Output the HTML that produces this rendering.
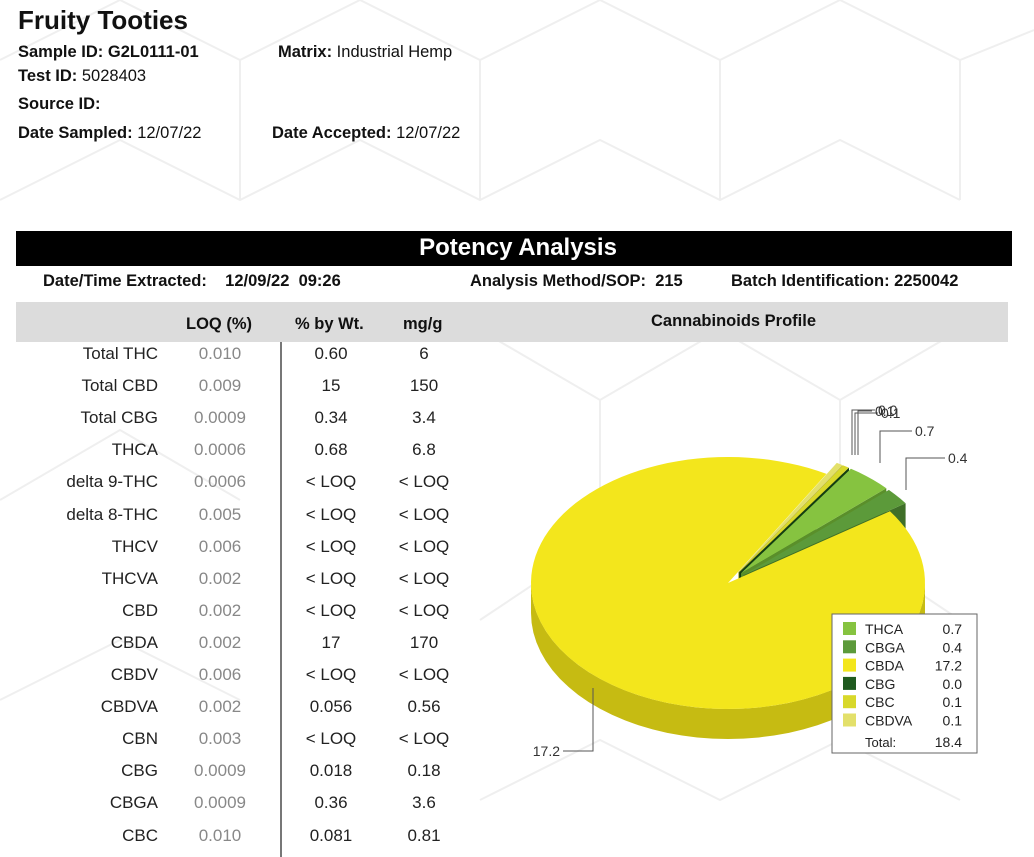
<!DOCTYPE html>
<html><head><meta charset="utf-8">
<style>
body{margin:0;width:1034px;height:857px;background:#fff;font-family:"Liberation Sans",Arial,sans-serif;position:relative;overflow:hidden;color:#111}
.a{position:absolute;white-space:nowrap}
.b{font-weight:bold}
.hd{font-size:16.5px}
.row{position:absolute;font-size:17px;color:#222}
</style></head><body>
<svg class="a" style="left:0;top:0" width="1034" height="857">
<g stroke="#efefef" stroke-width="2" fill="none">
<path d="M0 60 L120 0 M120 0 L240 60 L360 0 L480 60 L600 0 L720 60 L840 0 L960 60 L1034 30 M240 60 L240 200 M480 60 L480 200 M720 60 L720 200 M960 60 L960 200 M0 200 L120 140 L240 200 L360 140 L480 200 L600 140 L720 200 L840 140 L960 200"/>
<path d="M480 330 L600 400 L720 330 L840 400 L960 330 M600 400 L600 540 M840 400 L840 540 M480 620 L600 540 L720 620 L840 540 L960 620 M480 800 L600 740 L720 800 L840 740 L960 800 M0 500 L120 430 L240 500 M0 700 L120 640 L240 700"/>
</g></svg>

<div class="a b" style="left:18px;top:5px;font-size:26px">Fruity Tooties</div>
<div class="a hd" style="left:18px;top:43px"><b>Sample ID: G2L0111-01</b></div>
<div class="a hd" style="left:278px;top:43px"><b>Matrix:</b> Industrial Hemp</div>
<div class="a hd" style="left:18px;top:67px"><b>Test ID:</b> 5028403</div>
<div class="a hd" style="left:18px;top:95px"><b>Source ID:</b></div>
<div class="a hd" style="left:18px;top:124px"><b>Date Sampled:</b> 12/07/22</div>
<div class="a hd" style="left:272px;top:124px"><b>Date Accepted:</b> 12/07/22</div>

<div class="a" style="left:16px;top:231px;width:996px;height:35px;background:#000"></div>
<div class="a b" style="left:16px;top:234px;width:1004px;text-align:center;color:#fff;font-size:24px">Potency Analysis</div>
<div class="a b hd" style="left:43px;top:272px">Date/Time Extracted:&nbsp;&nbsp;&nbsp; 12/09/22&nbsp; 09:26</div>
<div class="a b hd" style="left:470px;top:272px">Analysis Method/SOP:&nbsp; 215</div>
<div class="a b hd" style="left:731px;top:272px">Batch Identification: 2250042</div>

<div class="a" style="left:16px;top:302px;width:992px;height:40px;background:#dcdcdc"></div>
<div class="a b hd" style="left:186px;top:315px">LOQ (%)</div>
<div class="a b hd" style="left:295px;top:315px">% by Wt.</div>
<div class="a b hd" style="left:403px;top:315px">mg/g</div>
<div class="a b hd" style="left:651px;top:312px">Cannabinoids Profile</div>
<div class="a" style="left:280px;top:342px;width:2px;height:515px;background:#777"></div>

<div id="tbl"></div>
<svg id="pie" class="a" style="left:0;top:0" width="1034" height="857"></svg>

<script>
const names=["Total THC","Total CBD","Total CBG","THCA","delta 9-THC","delta 8-THC","THCV","THCVA","CBD","CBDA","CBDV","CBDVA","CBN","CBG","CBGA","CBC"];
const loqs=["0.010","0.009","0.0009","0.0006","0.0006","0.005","0.006","0.002","0.002","0.002","0.006","0.002","0.003","0.0009","0.0009","0.010"];
const pcts=["0.60","15","0.34","0.68","< LOQ","< LOQ","< LOQ","< LOQ","< LOQ","17","< LOQ","0.056","< LOQ","0.018","0.36","0.081"];
const mggs=["6","150","3.4","6.8","< LOQ","< LOQ","< LOQ","< LOQ","< LOQ","170","< LOQ","0.56","< LOQ","0.18","3.6","0.81"];
const tbl=document.getElementById('tbl');
names.forEach((n,i)=>{
  const y=344+i*32.1;
  const cells=[[n,0,158,'right','#222'],[loqs[i],170,100,'center','#888'],[pcts[i],290,82,'center','#222'],[mggs[i],380,88,'center','#222']];
  cells.forEach((c,j)=>{
    const d=document.createElement('div');
    d.className='row';
    d.style.left=c[1]+'px';d.style.top=y+'px';d.style.width=c[2]+'px';d.style.textAlign=c[3];d.style.color=c[4];
    d.textContent=c[0];
    
    
    tbl.appendChild(d);
  });
});

const sliceNames=["CBDVA","CBC","CBG","THCA","CBGA","CBDA"];
const sliceVals=[0.1,0.1,0.0,0.7,0.4,17.2];
const sliceTop=["#e3e06a","#d8d82a","#1f5a1f","#86c340","#5c9a3a","#f3e61c"];
const sliceSide=["#b5b040","#a8a818","#123d12","#5a8f2a","#3f6f28","#c6bb12"];
const legendOrder=["THCA","CBGA","CBDA","CBG","CBC","CBDVA"];
const legendVals=["0.7","0.4","17.2","0.0","0.1","0.1"];
const legendCols=["#86c340","#5c9a3a","#f3e61c","#1f5a1f","#d8d82a","#e3e06a"];
const totalLabel="18.4";

const NS="http://www.w3.org/2000/svg";
const svg=document.getElementById('pie');
const cx=728,cy=583,rx=197,ry=126,depth=30,start=-60;
const total=sliceVals.reduce((a,b)=>a+b,0);
function pt(t,ox,oy,dz){const r=t*Math.PI/180;return [ox+rx*Math.cos(r),oy+ry*Math.sin(r)+(dz||0)];}
function add(tag,attrs,name){const e=document.createElementNS(NS,tag);for(const k in attrs)e.setAttribute(k,attrs[k]);


svg.appendChild(e);return e;}
let a=start;const slices=[];
sliceVals.forEach((v,i)=>{const s=a,e=a+v/total*360;a=e;
  const mid=(s+e)/2*Math.PI/180;const ex=i<5?20:0;
  slices.push({s,e,ox:cx+ex*Math.cos(mid),oy:cy+ex*0.64*Math.sin(mid),i});});
slices.forEach(sl=>{
  const segs=[];
  for(let k=-1;k<=1;k++){const lo=Math.max(sl.s,k*360),hi=Math.min(sl.e,k*360+180);if(hi>lo)segs.push([lo,hi]);}
  segs.forEach(([lo,hi])=>{
    let d='';const N=40;
    for(let j=0;j<=N;j++){const p=pt(lo+(hi-lo)*j/N,sl.ox,sl.oy);d+=(j?'L':'M')+p[0]+' '+p[1];}
    for(let j=N;j>=0;j--){const p=pt(lo+(hi-lo)*j/N,sl.ox,sl.oy,depth);d+='L'+p[0]+' '+p[1];}
    add('path',{d:d+'Z',fill:sliceSide[sl.i]},'side-'+sliceNames[sl.i]);
  });
  if(sl.i<5){const p=pt(sl.e,sl.ox,sl.oy);
    add('path',{d:`M${sl.ox} ${sl.oy}L${p[0]} ${p[1]}L${p[0]} ${p[1]+depth}L${sl.ox} ${sl.oy+depth}Z`,fill:sliceSide[sl.i]},'cut-'+sliceNames[sl.i]);}
});
slices.forEach(sl=>{
  let d=`M${sl.ox} ${sl.oy}`;const N=Math.max(2,Math.ceil((sl.e-sl.s)/3));
  for(let j=0;j<=N;j++){const p=pt(sl.s+(sl.e-sl.s)*j/N,sl.ox,sl.oy);d+='L'+p[0]+' '+p[1];}
  add('path',{d:d+'Z',fill:sliceTop[sl.i]},'slice-'+sliceNames[sl.i]);
});
function label(i,lx,ly,ax,ay,anchor){
  add('polyline',{points:`${ax},${ay} ${ax},${ly} ${lx},${ly}`,fill:'none',stroke:'#555','stroke-width':1},'leader-'+sliceNames[i]);
  const tx=add('text',{x:anchor==='end'?lx-3:lx+3,y:ly+5,'font-size':14,fill:'#333','text-anchor':anchor,'font-family':'Liberation Sans, sans-serif'},'label-'+sliceNames[i]);
  tx.textContent=sliceVals[i].toFixed(1);
}
label(5,563,751,593,688,'end');
label(4,945,458,906,490,'start');
label(3,912,431,880,463,'start');
label(2,875,410,852,455,'start');
label(1,878,413,855,455,'start');
label(0,872,411,858,455,'start');
add('rect',{x:832,y:614,width:145,height:139,fill:'#fff',stroke:'#666','stroke-width':1},'legend-box');
legendOrder.forEach((n,i)=>{const y=622+i*18.3;
  add('rect',{x:843,y:y,width:13,height:13,fill:legendCols[i]},'legend-swatch-'+n);
  const t=add('text',{x:865,y:y+12,'font-size':14,fill:'#222','font-family':'Liberation Sans, sans-serif'},'legend-name-'+n);t.textContent=n;
  const v=add('text',{x:962,y:y+12,'font-size':14,fill:'#222','text-anchor':'end','font-family':'Liberation Sans, sans-serif'},'legend-value-'+n);v.textContent=legendVals[i];
});
const tl=add('text',{x:865,y:747,'font-size':13,fill:'#222','font-family':'Liberation Sans, sans-serif'},'legend-total-label');tl.textContent='Total:';
const tv=add('text',{x:962,y:747,'font-size':14,fill:'#222','text-anchor':'end','font-family':'Liberation Sans, sans-serif'},'legend-total-value');tv.textContent=totalLabel;
</script>
</body></html>
